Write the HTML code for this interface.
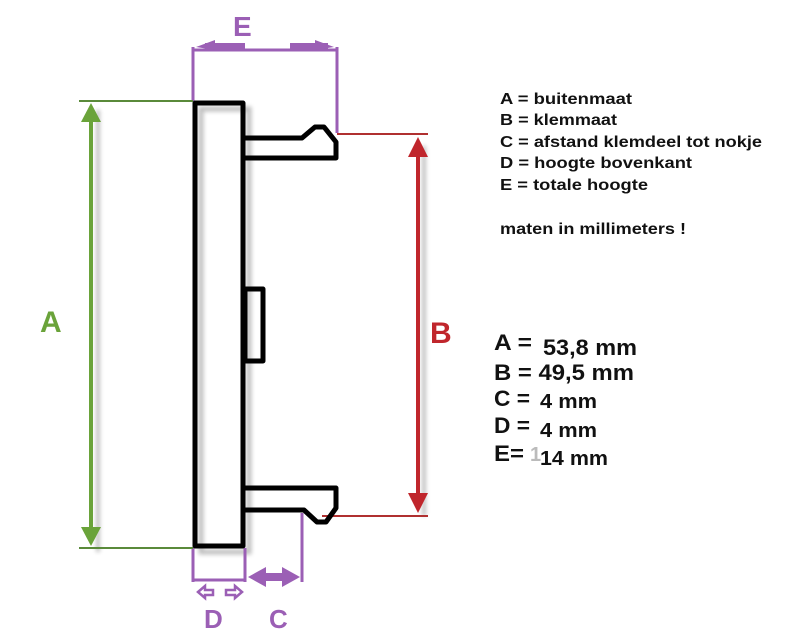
<!DOCTYPE html>
<html><head><meta charset="utf-8"><style>
body{margin:0;background:#fff;width:800px;height:643px;overflow:hidden}
svg{display:block}
text{font-family:"Liberation Sans",Arial,sans-serif;font-weight:bold}
</style></head><body>
<svg width="800" height="643" viewBox="0 0 800 643">
<defs>
<filter id="sh" x="-20%" y="-20%" width="140%" height="140%"><feGaussianBlur stdDeviation="2"/></filter>
</defs>
<g opacity="0.25" filter="url(#sh)" transform="translate(6,6)">
<rect x="195" y="103" width="48" height="443" fill="none" stroke="#000" stroke-width="5"/>
<line x1="92" y1="104" x2="92" y2="546" stroke="#000" stroke-width="4"/>
<line x1="418" y1="140" x2="418" y2="510" stroke="#000" stroke-width="4"/>
</g>
<g stroke="#9b5fb5" fill="none" stroke-width="3">
<line x1="193" y1="47" x2="193" y2="101"/>
<line x1="337" y1="47" x2="337" y2="133"/>
<line x1="193" y1="50" x2="337" y2="50"/>
<line x1="193" y1="548" x2="193" y2="582"/>
<line x1="245" y1="548" x2="245" y2="582"/>
<line x1="193" y1="580" x2="245" y2="580"/>
<line x1="302" y1="513" x2="302" y2="582"/>
</g>
<g fill="#9b5fb5">
<rect x="205" y="43" width="40" height="6"/>
<polygon points="196,47 215,40 215,50"/>
<rect x="290" y="43" width="38" height="6"/>
<polygon points="334,47 315,40 315,50"/>
<rect x="260" y="573" width="28" height="8"/>
<polygon points="248,577 266,567 266,587"/>
<polygon points="300,577 282,567 282,587"/>
</g>
<g fill="none" stroke="#9b5fb5" stroke-width="2.5">
<polygon points="198,592 205,586 205,590 213,590 213,595 205,595 205,598"/>
<polygon points="242,592 235,586 235,590 226,590 226,595 235,595 235,598"/>
</g>
<text x="233" y="36" font-size="28" fill="#9b5fb5" font-weight="normal">E</text>
<text x="204" y="628" font-size="26" fill="#9b5fb5">D</text>
<text x="269" y="628" font-size="26" fill="#9b5fb5">C</text>
<g stroke="#5a8a3a" stroke-width="2">
<line x1="79" y1="101" x2="193" y2="101"/>
<line x1="79" y1="548" x2="193" y2="548"/>
</g>
<line x1="91" y1="115" x2="91" y2="535" stroke="#6aa33a" stroke-width="4"/>
<polygon points="91,103 81,122 101,122" fill="#6aa33a"/>
<polygon points="91,546 81,527 101,527" fill="#6aa33a"/>
<text x="40" y="332" font-size="30" fill="#6aa33a">A</text>
<g stroke="#b03030" stroke-width="2">
<line x1="337" y1="134" x2="428" y2="134"/>
<line x1="322" y1="516" x2="428" y2="516"/>
</g>
<line x1="418" y1="150" x2="418" y2="500" stroke="#c0262c" stroke-width="4"/>
<polygon points="418,137 408,157 428,157" fill="#c0262c"/>
<polygon points="418,513 408,493 428,493" fill="#c0262c"/>
<text x="430" y="343" font-size="30" fill="#c0262c">B</text>
<g fill="none" stroke="#000" stroke-width="5" stroke-linejoin="round">
<rect x="195" y="103" width="48" height="443"/>
<path d="M243,138 L302,138 L315,127 L324,127 L336,142 L336,158 L243,158"/>
<path d="M243,488 L336,488 L336,508 L326,522 L317,522 L304,510 L243,510"/>
<rect x="245" y="289" width="18" height="72"/>
</g>
<g font-size="16" fill="#111" lengthAdjust="spacingAndGlyphs">
<text x="500" y="104" textLength="132" lengthAdjust="spacingAndGlyphs">A = buitenmaat</text>
<text x="500" y="125" textLength="117" lengthAdjust="spacingAndGlyphs">B = klemmaat</text>
<text x="500" y="147" textLength="262" lengthAdjust="spacingAndGlyphs">C = afstand klemdeel tot nokje</text>
<text x="500" y="168" textLength="192" lengthAdjust="spacingAndGlyphs">D = hoogte bovenkant</text>
<text x="500" y="190" textLength="148" lengthAdjust="spacingAndGlyphs">E = totale hoogte</text>
<text x="500" y="234" textLength="186" lengthAdjust="spacingAndGlyphs">maten in millimeters !</text>
</g>
<g fill="#111">
<text x="494" y="350" font-size="22" textLength="38" lengthAdjust="spacingAndGlyphs">A =</text>
<text x="543" y="355" font-size="22" textLength="94" lengthAdjust="spacingAndGlyphs">53,8 mm</text>
<text x="494" y="380" font-size="22" textLength="140" lengthAdjust="spacingAndGlyphs">B = 49,5 mm</text>
<text x="494" y="406" font-size="22" textLength="36" lengthAdjust="spacingAndGlyphs">C =</text>
<text x="540" y="408" font-size="20" textLength="57" lengthAdjust="spacingAndGlyphs">4 mm</text>
<text x="494" y="433" font-size="22" textLength="36" lengthAdjust="spacingAndGlyphs">D =</text>
<text x="540" y="437" font-size="20" textLength="57" lengthAdjust="spacingAndGlyphs">4 mm</text>
<text x="494" y="461" font-size="22" textLength="30" lengthAdjust="spacingAndGlyphs">E=</text>
<text x="530" y="461" font-size="20" fill="#bbb">1</text>
<text x="540" y="465" font-size="20" textLength="68" lengthAdjust="spacingAndGlyphs">14 mm</text>
</g>
</svg>
</body></html>
